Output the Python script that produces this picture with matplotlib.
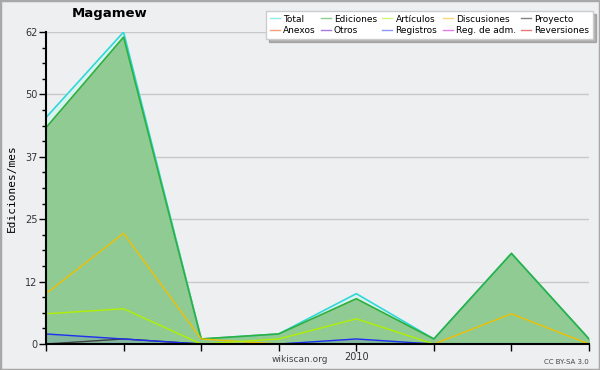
import matplotlib
matplotlib.use("Agg")
import matplotlib.pyplot as plt
from matplotlib.lines import Line2D
import numpy as np

# monthly edit counts
months = ["", "", "", "", "2010", "", "", ""]
total = [45, 62, 1, 2, 10, 1, 18, 1]
ediciones = [43, 61, 1, 2, 9, 1, 18, 1]
articulos = [6, 7, 0, 1, 5, 0, 0, 0]
discusiones = [10, 22, 1, 0, 0, 0, 6, 0]
registros = [2, 1, 0, 0, 1, 0, 0, 0]
proyecto = [0, 1, 0, 0, 0, 0, 0, 0]

legend_names = ["Total", "Anexos", "Ediciones", "Otros", "Artículos", "Registros",
                "Discusiones", "Reg. de adm.", "Proyecto", "Reversiones"]
legend_colors = ["#40e0d8", "#f06020", "#40b040", "#7020d0", "#b0f020", "#4050f0",
                 "#f0c020", "#d020e0", "#303030", "#e02020"]

BG = "#eeeff1"
x = np.arange(len(months))

fig = plt.figure(figsize=(6, 3.7), dpi=100, facecolor=BG)
fig.patches.append(plt.Rectangle((0, 0), 1, 1, transform=fig.transFigure,
                                 fill=False, edgecolor="#a8a8a8", linewidth=2.5))
ax = fig.add_axes([46 / 600, 1 - 344 / 370, 543 / 600, 312 / 370])
ax.set_facecolor(BG)

# filled areas
ax.fill_between(x, 0, total, color="#d8f4f0", alpha=0.9, zorder=1)
ax.fill_between(x, 0, ediciones, color="#90cb94", zorder=2)
ax.fill_between(x, 0, registros, color="#6080c0", alpha=0.25, zorder=3)

ax.plot(x, total, color="#30d8d8", lw=1.2, zorder=4)
ax.plot(x, ediciones, color="#30b040", lw=1.2, zorder=5)
ax.plot(x, discusiones, color="#f0c000", lw=1.0, zorder=6)
ax.plot(x, articulos, color="#b0f000", lw=1.0, zorder=7)
ax.plot(x, proyecto, color="#404040", lw=1.0, zorder=8)
ax.plot(x, registros, color="#2030f0", lw=1.0, zorder=9)

ax.set_xlim(0, len(months) - 1)
ax.set_ylim(0, 62)
ax.set_xticks(x)
ax.set_xticklabels(months, fontsize=7, color="#333333")
yt = np.linspace(0, 62, 6)
ax.set_yticks(yt)
ax.set_yticklabels([str(int(round(v))) for v in yt], fontsize=7, color="#333333")
ax.set_yticks(np.arange(0, 62.01, 3.1), minor=True)
ax.tick_params(axis="y", which="major", length=5, width=1, pad=1)
ax.tick_params(axis="y", which="minor", length=3, width=1)
ax.tick_params(axis="x", which="major", length=5, width=1, pad=1)
ax.grid(axis="y", color="#c8c8c8", lw=1)
ax.set_axisbelow(True)
for s in ["top", "right"]:
    ax.spines[s].set_visible(False)
for s in ["left", "bottom"]:
    ax.spines[s].set_linewidth(1.5)
    ax.spines[s].set_zorder(10)

ax.set_ylabel("Ediciones/mes", family="DejaVu Sans Mono", fontsize=8)
ax.yaxis.set_label_coords(-29 / 543, 0.5)

fig.text(110 / 600, 1 - 13 / 370, "Magamew", ha="center", va="center",
         fontsize=9.5, fontweight="bold")
fig.text(300 / 600, 1 - 359 / 370, "wikiscan.org", ha="center", va="center",
         fontsize=6.5, color="#444444")
fig.text(589 / 600, 1 - 362 / 370, "CC BY-SA 3.0", ha="right", va="center",
         fontsize=5, color="#444444")

handles = [Line2D([], [], color=c, lw=1, alpha=0.6) for c in legend_colors]
leg = fig.legend(handles, legend_names, ncol=5, loc="upper right",
                 bbox_to_anchor=(593 / 600, 1 - 11 / 370), fontsize=6.5,
                 frameon=True, fancybox=False, shadow={"color": "#777777"},
                 handlelength=1.1, handletextpad=0.35, columnspacing=0.6,
                 labelspacing=0.3, borderpad=0.4, borderaxespad=0)
leg.get_frame().set_edgecolor("#cccccc")
leg.get_frame().set_linewidth(1)

fig.savefig("out.png", dpi=100, facecolor=BG)
